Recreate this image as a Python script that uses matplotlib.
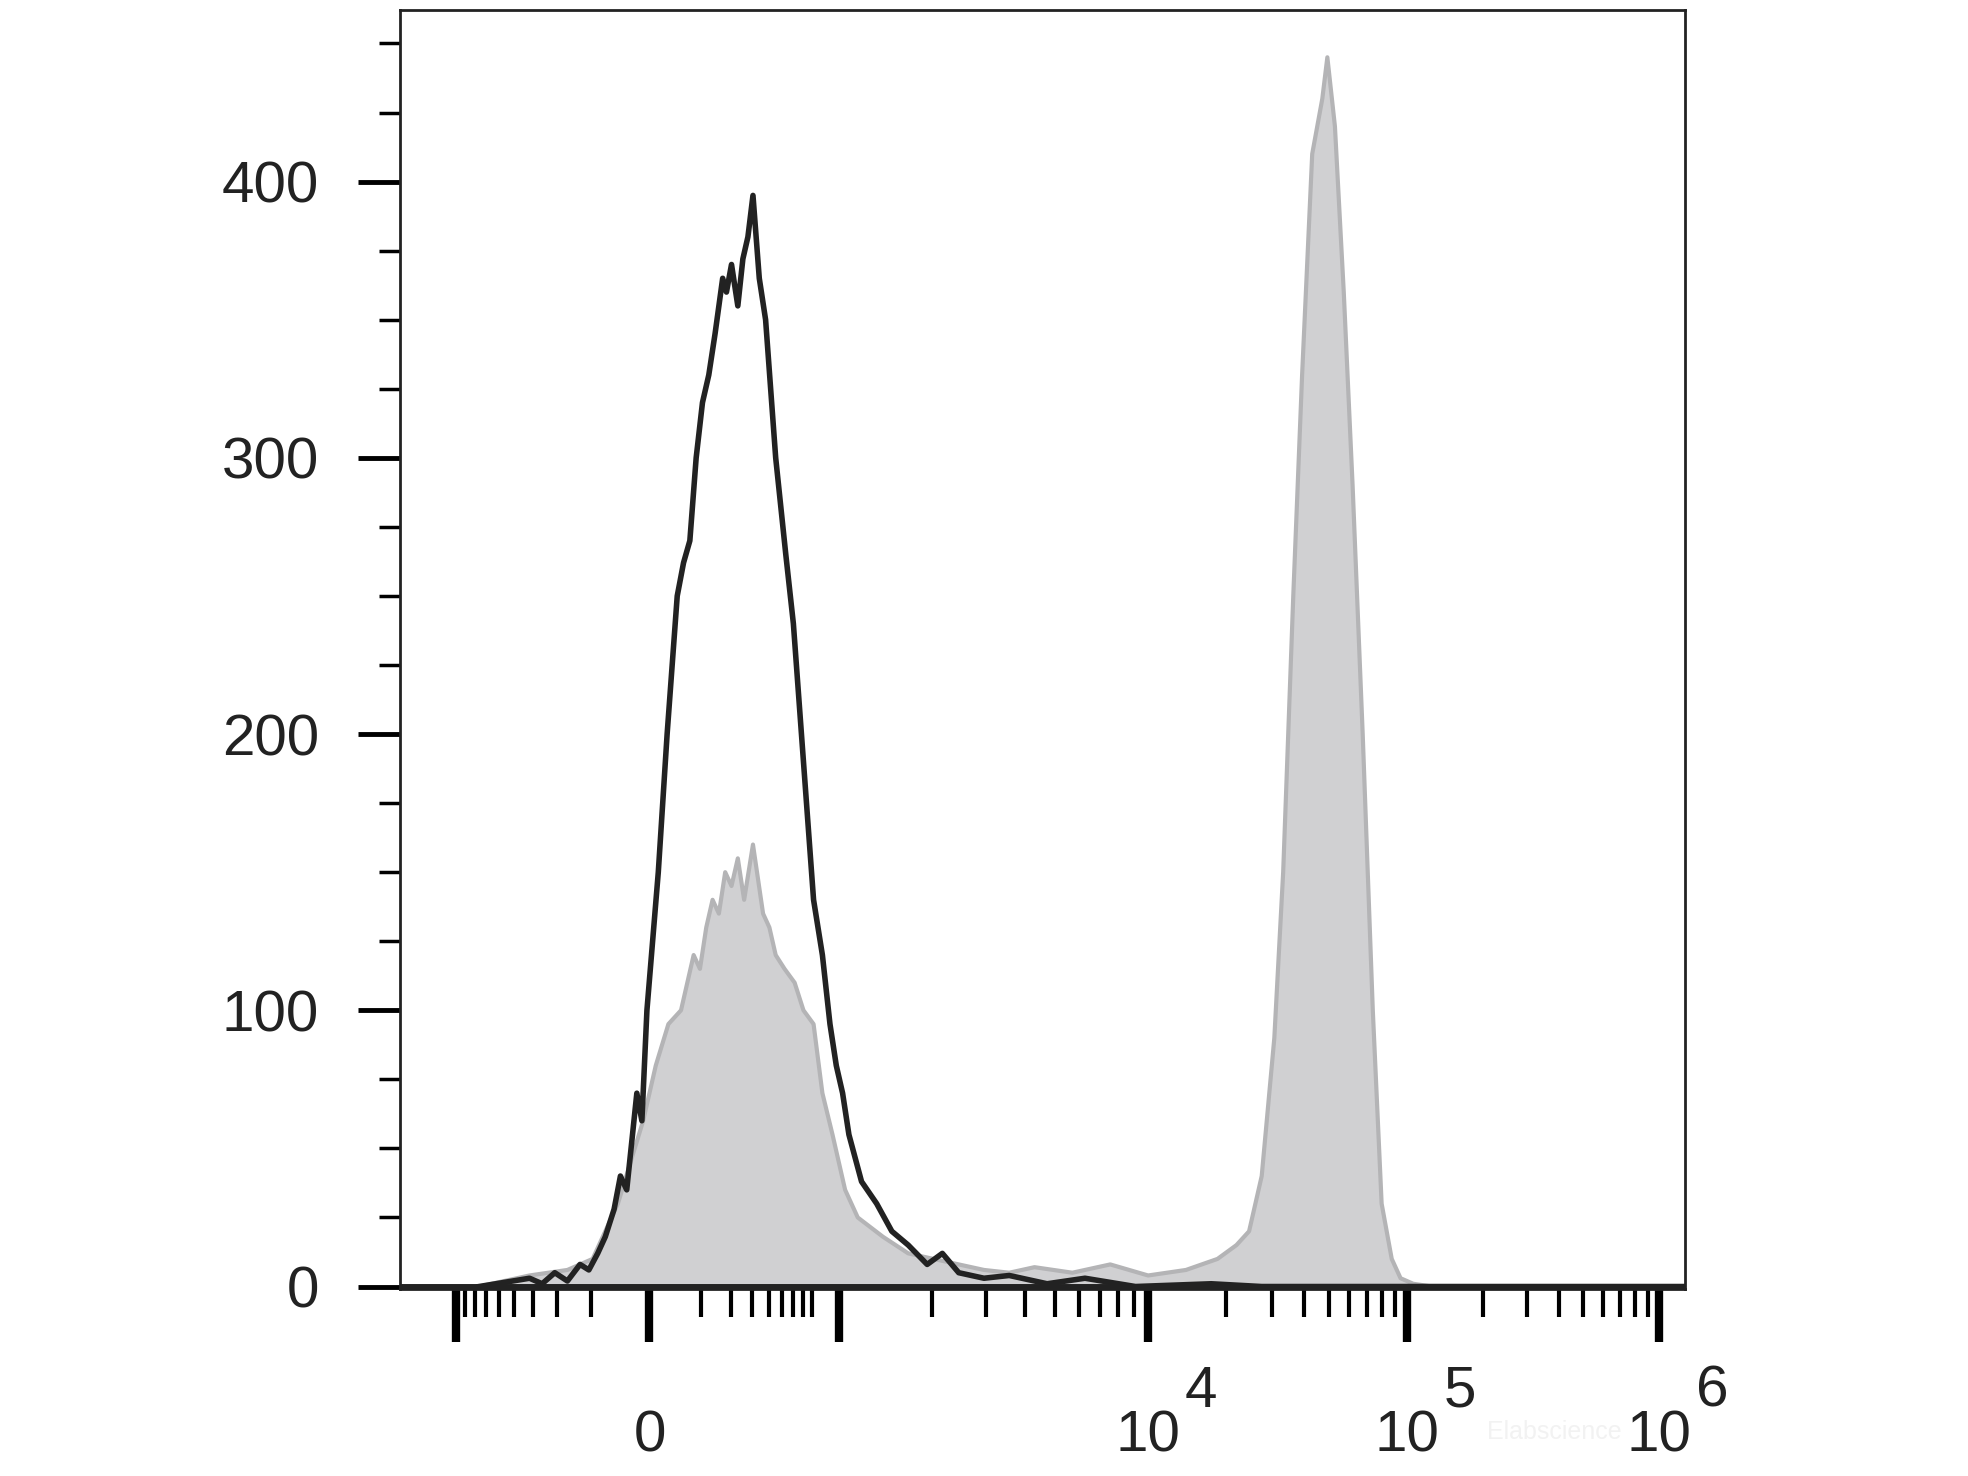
import numpy as np
import matplotlib.pyplot as plt

plt.rcParams['font.family'] = ['Liberation Sans', 'DejaVu Sans']

# x in display channel units (0 .. 1018), y = count
black_x = [63, 103, 113, 123, 133, 143, 150, 157, 163, 170, 175, 180, 188, 192, 196, 205, 212, 220, 225,
           230, 235, 240, 245, 250, 256, 259, 263, 268, 272, 276, 280, 285, 290, 298, 306, 312, 320, 328,
           335, 341, 346, 351, 356, 366, 378, 390, 403, 418, 430, 443, 463, 483, 513, 543, 583, 643, 683, 1018]
black_y = [0, 3, 1, 5, 2, 8, 6, 12, 18, 28, 40, 35, 70, 60, 100, 150, 200, 250, 262,
           270, 300, 320, 330, 345, 365, 360, 370, 355, 372, 380, 395, 365, 350, 300, 265, 240, 190, 140,
           120, 95, 80, 70, 55, 38, 30, 20, 15, 8, 12, 5, 3, 4, 1, 3, 0, 1, 0, 0]

gray_x = [63, 103, 133, 153, 163, 173, 183, 193, 203, 213, 223, 228, 233, 238, 243, 248, 253, 258, 263,
          268, 273, 280, 288, 293, 298, 305, 313, 320, 328, 335, 343, 353, 363, 383, 403, 423, 443, 463,
          483, 503, 533, 563, 593, 623, 648, 663, 673, 683, 693, 700, 708, 715, 723, 731, 735, 741, 748,
          755, 763, 771, 778, 786, 793, 803, 818, 1018]
gray_y = [0, 4, 6, 10, 20, 30, 45, 60, 80, 95, 100, 110, 120, 115, 130, 140, 135, 150, 145,
          155, 140, 160, 135, 130, 120, 115, 110, 100, 95, 70, 55, 35, 25, 18, 12, 10, 8, 6,
          5, 7, 5, 8, 4, 6, 10, 15, 20, 40, 90, 150, 250, 330, 410, 430, 445, 420, 360,
          290, 200, 100, 30, 10, 3, 1, 0, 0]

ytick_vals = [0, 100, 200, 300, 400]

fig = plt.figure(figsize=(19.68, 14.76), dpi=100)
ax = fig.add_axes([0.203, 0.1265, 0.653, 0.8665])

ax.fill_between(gray_x, gray_y, color='#d0d0d2', lw=0, zorder=1)
ax.plot(gray_x, gray_y, color='#b4b4b6', lw=3, zorder=2)
ax.plot(black_x, black_y, color='#222222', lw=4, zorder=3)
ax.axhline(0, color='#222222', lw=5, zorder=4)

ax.set_xlim(0, 1018)
ax.set_ylim(-1, 462)

for s in ax.spines.values():
    s.set_linewidth(2)
    s.set_color('#222222')

ax.set_yticks(ytick_vals)
ax.set_yticklabels([str(v) for v in ytick_vals], fontsize=42, color='#222222')
ax.set_yticks(np.arange(25, 462, 25), minor=True)
ax.tick_params(axis='y', which='major', length=30, width=3.5, direction='out', pad=28)
ax.tick_params(axis='y', which='minor', length=15, width=2.5, direction='out')

# biexponential-like tick layout
major = [45, 198, 348, 593, 798, 998]
dec_edges = [(348, 593), (593, 798), (798, 998)]
minor = []
for a, b in dec_edges:
    for k in range(2, 10):
        minor.append(a + np.log10(k) * (b - a))
for k in range(2, 10):
    minor.append(198 - np.log10(k) * (198 - 45))
    minor.append(198 + np.log10(k) * (348 - 198) * 0.9)
ax.set_xticks(major)
ax.set_xticklabels([''] * 6)
ax.set_xticks(minor, minor=True)
ax.tick_params(axis='x', which='major', length=38, width=6, direction='out')
ax.tick_params(axis='x', which='minor', length=20, width=3, direction='out')

tr = ax.get_xaxis_transform()
ax.text(198, -0.115, '0', transform=tr, fontsize=42, ha='center', va='center', color='#222222')
for pos, e in zip(major[3:], ['4', '5', '6']):
    ax.text(pos, -0.115, '10', transform=tr, fontsize=42, ha='center', va='center', color='#222222')
    ax.text(pos + 42, -0.08, e, transform=tr, fontsize=42, ha='center', va='center', color='#222222')

fig.text(0.79, 0.025, 'Elabscience', fontsize=18, color='#f2f2f2', ha='center')

fig.savefig('out.png', dpi=100)
